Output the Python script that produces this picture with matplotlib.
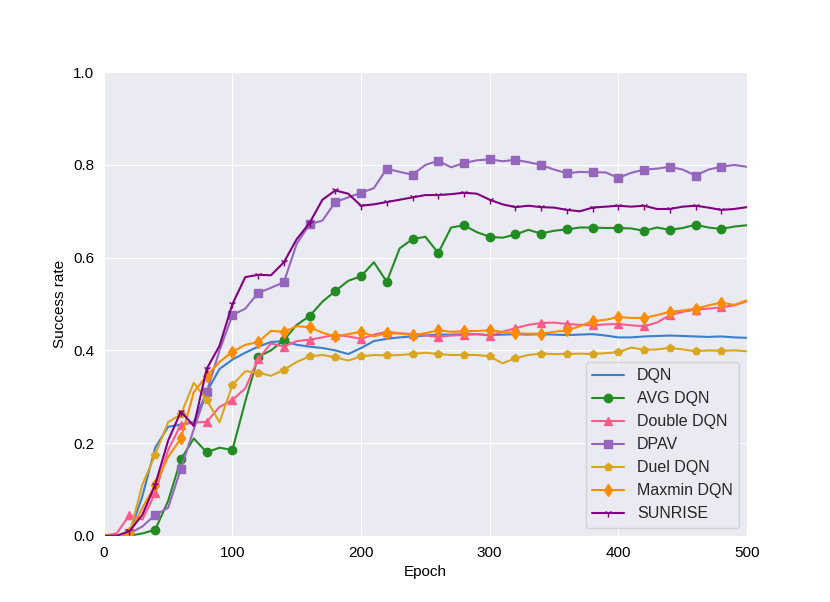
import matplotlib
matplotlib.use("Agg")
import matplotlib.pyplot as plt
import seaborn as sns

sns.set_style("darkgrid")
plt.rcParams['font.family'] = ['Liberation Sans', 'DejaVu Sans']

# epochs, sampled every 10
epochs = list(range(0, 501, 10))

dqn = [0, 0, 0.005, 0.085, 0.19, 0.235, 0.24, 0.245, 0.31, 0.36,
       0.38, 0.395, 0.408, 0.418, 0.42, 0.412, 0.408, 0.405, 0.40, 0.392,
       0.405, 0.42, 0.425, 0.428, 0.43, 0.432, 0.434, 0.434, 0.435, 0.435,
       0.433, 0.434, 0.435, 0.434, 0.435, 0.434, 0.433, 0.434, 0.435, 0.432,
       0.428, 0.428, 0.43, 0.431, 0.432, 0.431, 0.43, 0.429, 0.43, 0.428,
       0.427]
avg_dqn = [0, 0, 0, 0.005, 0.013, 0.075, 0.165, 0.21, 0.18, 0.19,
           0.185, 0.29, 0.386, 0.40, 0.422, 0.455, 0.474, 0.505, 0.528, 0.55,
           0.56, 0.59, 0.548, 0.62, 0.64, 0.645, 0.61, 0.665, 0.67, 0.655,
           0.645, 0.643, 0.65, 0.66, 0.652, 0.658, 0.661, 0.665, 0.665, 0.664,
           0.664, 0.663, 0.658, 0.665, 0.66, 0.664, 0.671, 0.665, 0.662, 0.667,
           0.67]
double_dqn = [0, 0.005, 0.045, 0.035, 0.092, 0.185, 0.24, 0.244, 0.246, 0.278,
              0.293, 0.318, 0.381, 0.415, 0.408, 0.42, 0.423, 0.428, 0.434, 0.43,
              0.425, 0.434, 0.44, 0.437, 0.435, 0.432, 0.429, 0.432, 0.433, 0.435,
              0.432, 0.44, 0.448, 0.455, 0.459, 0.46, 0.457, 0.455, 0.454, 0.456,
              0.457, 0.454, 0.452, 0.46, 0.476, 0.483, 0.488, 0.49, 0.493, 0.497,
              0.506]
dpav = [0, 0, 0.005, 0.02, 0.045, 0.06, 0.145, 0.23, 0.31, 0.40,
        0.476, 0.49, 0.524, 0.535, 0.547, 0.63, 0.672, 0.68, 0.72, 0.73,
        0.74, 0.75, 0.792, 0.785, 0.779, 0.80, 0.809, 0.795, 0.804, 0.81,
        0.812, 0.808, 0.811, 0.806, 0.80, 0.79, 0.782, 0.785, 0.784, 0.784,
        0.772, 0.783, 0.79, 0.792, 0.796, 0.79, 0.777, 0.79, 0.796, 0.80,
        0.796]
duel_dqn = [0, 0, 0.005, 0.11, 0.175, 0.245, 0.262, 0.33, 0.293, 0.245,
            0.325, 0.355, 0.352, 0.345, 0.358, 0.375, 0.387, 0.39, 0.385, 0.378,
            0.387, 0.39, 0.389, 0.39, 0.392, 0.395, 0.392, 0.39, 0.39, 0.39,
            0.387, 0.372, 0.383, 0.39, 0.393, 0.392, 0.392, 0.393, 0.392, 0.394,
            0.396, 0.406, 0.401, 0.402, 0.405, 0.402, 0.398, 0.40, 0.399, 0.40,
            0.398]
maxmin_dqn = [0, 0, 0.005, 0.06, 0.11, 0.17, 0.21, 0.31, 0.345, 0.375,
              0.397, 0.412, 0.418, 0.442, 0.44, 0.452, 0.45, 0.438, 0.43, 0.435,
              0.44, 0.43, 0.437, 0.436, 0.433, 0.437, 0.443, 0.44, 0.441, 0.442,
              0.443, 0.44, 0.437, 0.436, 0.436, 0.44, 0.443, 0.452, 0.463, 0.466,
              0.472, 0.47, 0.47, 0.476, 0.483, 0.486, 0.49, 0.497, 0.503, 0.498,
              0.508]
sunrise = [0, 0, 0.01, 0.045, 0.11, 0.205, 0.268, 0.237, 0.36, 0.41,
           0.50, 0.558, 0.563, 0.562, 0.59, 0.64, 0.675, 0.725, 0.745, 0.738,
           0.712, 0.715, 0.72, 0.725, 0.73, 0.735, 0.735, 0.737, 0.74, 0.738,
           0.725, 0.715, 0.709, 0.712, 0.709, 0.708, 0.703, 0.70, 0.708, 0.71,
           0.712, 0.71, 0.712, 0.705, 0.705, 0.71, 0.712, 0.708, 0.703, 0.705,
           0.709]

series = [
    ('DQN', dqn, '#3a7fcc', None),
    ('AVG DQN', avg_dqn, '#228b22', 'o'),
    ('Double DQN', double_dqn, '#ff5a8a', '^'),
    ('DPAV', dpav, '#9467bd', 's'),
    ('Duel DQN', duel_dqn, '#daa520', 'p'),
    ('Maxmin DQN', maxmin_dqn, '#ff8c00', 'd'),
    ('SUNRISE', sunrise, '#800080', '1'),
]

fig, ax = plt.subplots(figsize=(8.3, 6.02), dpi=100)
marks = slice(2, 50, 2)  # a marker every 20 epochs
for name, vals, col, mk in series:
    ax.plot(epochs, vals, label=name, color=col, marker=mk, markersize=6,
            markevery=marks, linewidth=1.5)

ax.set_xlim(0, 500)
ax.set_ylim(0, 1.0)
ax.set_xlabel('Epoch', fontsize=11, color='black')
ax.set_ylabel('Success rate', fontsize=11, color='black')
# no visible ticks, wider gap to the labels
ax.tick_params(labelsize=11, length=0, pad=7, labelcolor='black')
ax.legend(loc='lower right', fontsize=11.5)
fig.savefig('out.png')
